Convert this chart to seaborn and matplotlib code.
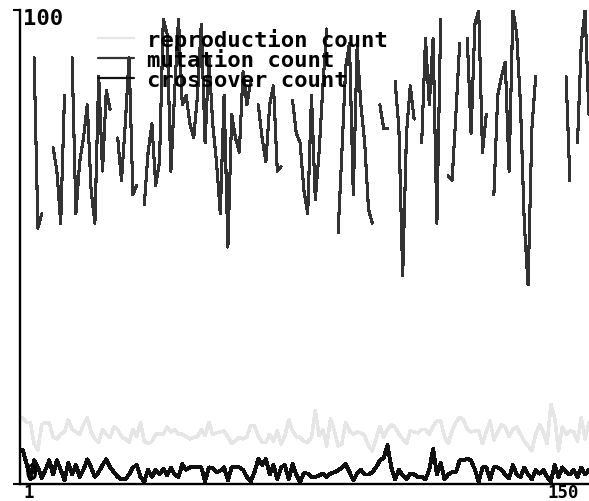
import numpy as np
import pandas as pd
import matplotlib
matplotlib.use("Agg")
import matplotlib.pyplot as plt
import seaborn as sns
from matplotlib.lines import Line2D

generations = list(range(1, 151))

reproduction = [
    14.0, 13.0, 13.0, 8.5, 7.2, 12.5, 13.0, 12.8, 10.0, 9.5,
    10.5, 11.0, 13.5, 11.5, 11.0, 10.5, 12.5, 14.0, 11.0, 9.5,
    8.8, 11.5, 10.5, 9.8, 12.0, 11.5, 10.0, 9.5, 8.8, 11.5,
    10.0, 13.0, 9.0, 8.5, 9.0, 10.5, 10.5, 10.5, 12.0, 11.0,
    11.5, 10.5, 10.5, 10.0, 9.5, 9.8, 10.0, 11.5, 10.2, 13.0,
    10.5, 10.8, 11.0, 11.2, 10.0, 8.5, 9.2, 9.8, 9.5, 10.0,
    12.3, 12.3, 10.0, 8.8, 8.8, 10.5, 9.0, 11.2, 8.4, 10.2,
    13.5, 11.2, 10.0, 9.8, 9.0, 8.8, 9.8, 15.5, 10.2, 11.5,
    8.0, 13.8, 11.2, 8.0, 8.5, 13.0, 11.2, 10.5, 11.0, 10.8,
    10.2, 8.0, 7.0, 9.5, 12.2, 9.8, 11.5, 12.5, 12.0, 10.5,
    9.5, 8.5, 11.2, 11.0, 10.8, 11.5, 11.5, 10.5, 12.2, 13.3,
    13.3, 10.0, 8.5, 11.2, 13.0, 14.0, 13.5, 11.5, 11.0, 11.2,
    11.2, 8.5, 11.0, 13.3, 9.3, 11.0, 12.5, 12.0, 10.0, 11.5,
    12.0, 10.5, 9.0, 8.0, 7.0, 10.5, 12.5, 11.0, 8.5, 16.8,
    14.0, 7.0, 12.0, 10.5, 11.2, 11.0, 9.0, 14.0, 9.5, 13.0,
]

mutation = [
    None, None, None, 90, 54, 57, None, None, 71, 66,
    55, 82, None, 90, 57, 68, 73, 80, 62, 55,
    86, 66, 83, 79, None, 73, 64, 76, 90, 61,
    63, None, 59, 70, 76, 63, 68, 98, 95, 66,
    83, 98, 80, 82, 76, 73, 82, 97, 72, 90,
    76, 68, 57, 82, 50, 78, 73, 70, 87, 80,
    85, None, 80, 73, 68, 80, 84, 66, 67, None,
    None, 81, 74, 72, 62, 57, 82, 60, 70, 84,
    96, None, None, 53, 70, 88, 93, 61, 92, 80,
    72, 58, 55, None, 80, 75, 75, None, 85, 75,
    44, 74, 84, 77, None, 72, 94, 80, 94, 55,
    98, None, 65, 64, 78, 93, None, 94, 74, 97,
    100, 70, 78, None, 61, 82, 86, 89, 66, 100,
    95, 80, 55, 42, 75, 86, None, None, None, None,
    None, None, None, 86, 64, None, 72, 93, 100, 78,
]

crossover = [
    7.2, 4.3, 1.0, 5.0, 3.5, 1.3, 3.0, 5.0, 2.0, 5.0,
    3.0, 0.8, 4.5, 2.0, 4.0, 1.5, 3.0, 5.2, 3.5, 1.5,
    2.5, 4.0, 5.2, 3.5, 2.5, 1.5, 1.0, 1.0, 2.0, 3.5,
    4.0, 1.5, 0.5, 3.0, 1.5, 3.0, 2.0, 3.2, 1.8, 3.5,
    2.0, 1.5, 4.2, 3.0, 3.5, 3.5, 3.5, 3.5, 0.6, 3.5,
    3.3, 2.5, 2.8, 3.5, 0.8, 3.5, 3.5, 3.5, 3.0, 1.5,
    0.5, 2.5, 5.3, 4.0, 5.3, 2.0, 4.0, 1.0, 3.5, 4.0,
    1.0, 4.2, 2.0, 0.4, 2.3, 2.2, 1.5, 1.5, 1.8, 2.2,
    1.5, 2.2, 2.5, 2.8, 3.5, 4.2, 2.5, 0.8, 2.2, 3.0,
    2.0, 2.0, 2.5, 3.5, 5.0, 5.5, 8.2, 3.5, 1.0, 3.0,
    1.8, 1.0, 2.2, 2.0, 1.5, 1.5, 1.0, 3.0, 7.4, 2.0,
    4.5, 1.0, 2.0, 2.5, 2.5, 5.0, 5.0, 5.3, 5.0, 3.0,
    0.5, 3.5, 3.5, 1.0, 3.5, 3.5, 3.0, 2.0, 1.2, 4.0,
    2.0, 1.5, 3.5, 2.0, 1.0, 3.0, 2.2, 3.0, 1.5, 0.5,
    4.0, 1.5, 3.5, 2.5, 2.0, 3.0, 1.5, 3.5, 2.0, 3.0,
]

series_names = ["reproduction count", "mutation count", "crossover count"]
series_colors = ["#e6e6e6", "#333333", "#111111"]
series_widths = [1.8, 1.5, 2.1]
y_labels = ["0", "100"]
x_labels = ["1", "150"]

sns.set_theme(style="white")
plt.rcParams["font.family"] = ["DejaVu Sans Mono", "DejaVu Sans"]
plt.rcParams["text.color"] = "black"

W, H = 589, 502
fig = plt.figure(figsize=(W / 100, H / 100), dpi=100)
ax = fig.add_axes([20 / W, 1 - 485 / H, 1 - 20 / W, (485 - 11) / H])


def to_frame(vals):
    v = np.array(vals, dtype=float)
    seg = np.cumsum(np.isnan(v))
    df = pd.DataFrame({"generation": generations, "count": v, "segment": seg})
    return df.dropna()


for vals, col, lw in zip([reproduction, mutation, crossover], series_colors, series_widths):
    sns.lineplot(data=to_frame(vals), x="generation", y="count", units="segment",
                 estimator=None, color=col, linewidth=lw, ax=ax, legend=False,
                 antialiased=False)

ax.set_xlim(0.29, 150.03)
ax.set_ylim(0, 100)
ax.set_xlabel("")
ax.set_ylabel("")
for s in ["top", "right"]:
    ax.spines[s].set_visible(False)
for s in ["left", "bottom"]:
    ax.spines[s].set_color("black")
    ax.spines[s].set_linewidth(1.7)
ax.set_xticks([])
ax.set_yticks([0, 100])
ax.set_yticklabels([])
ax.tick_params(axis="y", left=True, direction="out", length=5, width=1.5, color="black")

fkw = dict(fontweight="bold", color="black")
fig.text(23 / W, 1 - 9 / H, y_labels[1], ha="left", va="top", fontsize=16, **fkw)
fig.text(25 / W, 1 - 480 / H, y_labels[0], ha="left", va="baseline", fontsize=16, **fkw)
fig.text(23 / W, 0.0, x_labels[0], ha="left", va="bottom", fontsize=12.5, **fkw)
fig.text(547 / W, 0.0, x_labels[1], ha="left", va="bottom", fontsize=12.5, **fkw)

handles = [Line2D([], [], color=c, linewidth=1.6) for c in series_colors]
leg = ax.legend(handles, series_names, loc="upper left",
                bbox_to_anchor=(98 / W, 1 - 29 / H), bbox_transform=fig.transFigure,
                frameon=False, prop=dict(family="DejaVu Sans Mono", weight="bold", size=16),
                handlelength=1.6, handletextpad=0.6, labelspacing=0.0,
                borderpad=0, borderaxespad=0)
for t in leg.get_texts():
    t.set_color("black")

fig.savefig("out.png", dpi=100)
